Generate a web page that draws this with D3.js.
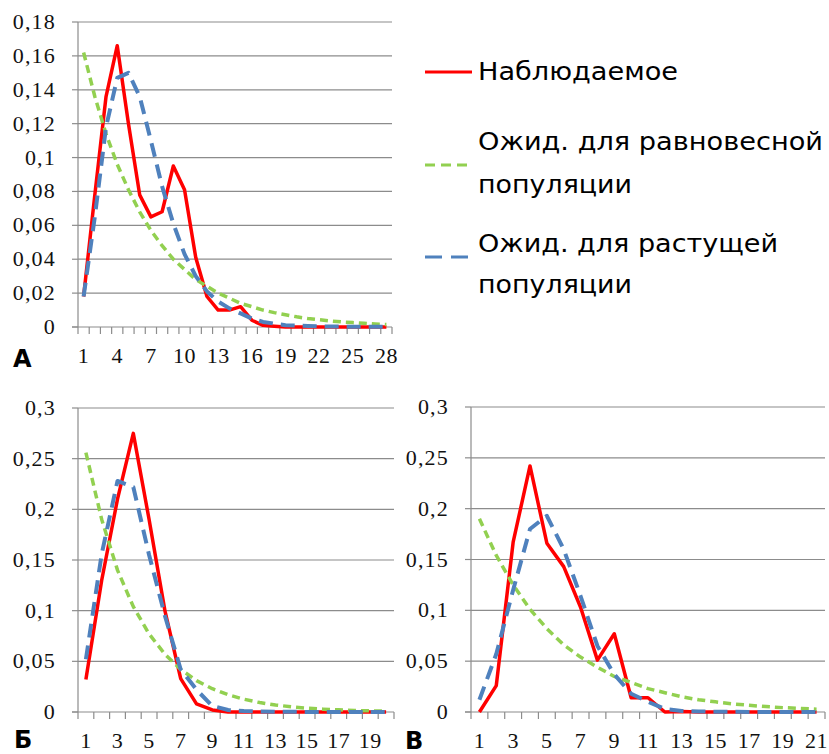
<!DOCTYPE html>
<html>
<head>
<meta charset="utf-8">
<script src="https://cdn.jsdelivr.net/npm/d3@7"></script>
<style>
  body { margin: 0; background: #fff; }
  svg { display: block; }
  .serif { font-family: "Liberation Serif", "DejaVu Serif", serif; }
</style>
</head>
<body>
<svg id="chart" width="829" height="754"></svg>
<script>
// ---------------- DATA ----------------
const catsA = [1,2,3,4,5,6,7,8,9,10,11,12,13,14,15,16,17,18,19,20,21,22,23,24,25,26,27,28];
const observedA = [0.018,0.078,0.136,0.166,0.12,0.078,0.065,0.068,0.095,0.081,0.041,0.018,0.01,0.01,0.012,0.004,0.001,0.0005,0,0,0,0,0,0,0,0,0,0];
const equilibriumA = [0.162,0.136,0.114,0.096,0.081,0.068,0.057,0.048,0.04,0.034,0.028,0.024,0.02,0.017,0.014,0.012,0.01,0.0085,0.0072,0.006,0.005,0.0043,0.0036,0.003,0.0026,0.0022,0.0018,0.0015];
const growingA = [0.018,0.065,0.118,0.147,0.15,0.136,0.11,0.083,0.061,0.043,0.03,0.021,0.015,0.011,0.008,0.005,0.003,0.002,0.001,0.0008,0.0006,0.0004,0.0003,0.0002,0.0002,0.0001,0.0001,0.0001];
const xLabelsA = [1,4,7,10,13,16,19,22,25,28];
const yTicksA = [0,0.02,0.04,0.06,0.08,0.1,0.12,0.14,0.16,0.18];
const yLabelsA = ["0","0,02","0,04","0,06","0,08","0,1","0,12","0,14","0,16","0,18"];

const catsB = [1,2,3,4,5,6,7,8,9,10,11,12,13,14,15,16,17,18,19,20];
const observedB = [0.032,0.13,0.21,0.275,0.19,0.1,0.033,0.008,0.002,0,0,0,0,0,0,0,0,0,0,0];
const equilibriumB = [0.256,0.19,0.14,0.104,0.077,0.057,0.042,0.031,0.023,0.017,0.0126,0.0093,0.0069,0.0051,0.0038,0.0028,0.0021,0.0015,0.0011,0.0008];
const growingB = [0.052,0.156,0.228,0.222,0.155,0.095,0.042,0.022,0.006,0.002,0.001,0.0005,0.0003,0.0002,0.0001,0.0001,0,0,0,0];
const xLabelsB = [1,3,5,7,9,11,13,15,17,19];

const catsC = [1,2,3,4,5,6,7,8,9,10,11,12,13,14,15,16,17,18,19,20,21];
const observedC = [0,0.026,0.167,0.242,0.166,0.143,0.103,0.051,0.077,0.014,0.014,0,0.0005,0,0,0,0,0,0,0,0];
const equilibriumC = [0.19,0.154,0.125,0.101,0.082,0.066,0.054,0.044,0.035,0.029,0.023,0.019,0.015,0.012,0.01,0.008,0.0066,0.0053,0.0043,0.0035,0.0028];
const growingC = [0.012,0.057,0.12,0.18,0.193,0.16,0.114,0.065,0.037,0.018,0.01,0.003,0.001,0.0005,0.0003,0.0002,0.0001,0.0001,0,0,0];
const xLabelsC = [1,3,5,7,9,11,13,15,17,19,21];

const yTicksBC = [0,0.05,0.1,0.15,0.2,0.25,0.3];
const yLabelsBC = ["0","0,05","0,1","0,15","0,2","0,25","0,3"];

const legendLabels = [["Наблюдаемое"],["Ожид. для равновесной","популяции"],["Ожид. для растущей","популяции"]];
const panelLabels = ["А","Б","В"];

// ---------------- STYLE ----------------
const RED = "#ff0000", GREEN = "#92d050", BLUE = "#4f81bd", GRID = "#8c8c8c";
const series = [
  {key:"obs", color:RED, width:3.5, dash:null},
  {key:"eq", color:GREEN, width:3.5, dash:"8,5"},
  {key:"gr", color:BLUE, width:4, dash:"14,8"}
];

const svg = d3.select("#chart");
svg.append("rect").attr("width",829).attr("height",754).attr("fill","#fff");

function panel(cfg) {
  const g = svg.append("g");
  const x = d3.scaleBand().domain(cfg.cats).range([cfg.x0, cfg.x1]).paddingInner(0).paddingOuter(0);
  const y = d3.scaleLinear().domain([0, cfg.ymax]).range([cfg.y0, cfg.y1]);
  const cx = d => x(d) + x.bandwidth()/2;

  g.selectAll(".grid").data(cfg.yTicks.filter(v => v > 0)).enter().append("line")
    .attr("x1", cfg.x0).attr("x2", cfg.x1)
    .attr("y1", d => y(d)).attr("y2", d => y(d))
    .attr("stroke", GRID).attr("stroke-width", 1.2);

  g.append("line").attr("x1", cfg.x0).attr("x2", cfg.x0).attr("y1", y(0)).attr("y2", y(cfg.ymax))
    .attr("stroke", GRID).attr("stroke-width", 1.2);
  g.selectAll(".yt").data(cfg.yTicks).enter().append("line")
    .attr("x1", cfg.x0 - 6).attr("x2", cfg.x0)
    .attr("y1", d => y(d)).attr("y2", d => y(d))
    .attr("stroke", GRID).attr("stroke-width", 1.2);
  g.selectAll(".yl").data(cfg.yTicks).enter().append("text")
    .attr("class", "serif")
    .attr("x", cfg.x0 - 22).attr("y", d => y(d) + 7)
    .attr("text-anchor", "end")
    .attr("font-size", 22).attr("letter-spacing", 1.2).attr("fill", "#111")
    .text((d, i) => cfg.yLabels[i]);

  g.append("line").attr("x1", cfg.x0 - 6).attr("x2", cfg.x1).attr("y1", y(0)).attr("y2", y(0))
    .attr("stroke", GRID).attr("stroke-width", 1.2);
  const bounds = cfg.cats.map(d => x(d)).concat([cfg.x1]);
  g.selectAll(".xt").data(bounds).enter().append("line")
    .attr("x1", d => d).attr("x2", d => d)
    .attr("y1", y(0)).attr("y2", y(0) + 7)
    .attr("stroke", GRID).attr("stroke-width", 1.2);
  g.selectAll(".xl").data(cfg.xLabels).enter().append("text")
    .attr("class", "serif")
    .attr("x", d => cx(d)).attr("y", y(0) + 36)
    .attr("text-anchor", "middle")
    .attr("font-size", 22).attr("letter-spacing", 0.5).attr("fill", "#111")
    .text(d => d);

  const line = d3.line().x(d => cx(d.c)).y(d => y(d.v));
  const data = {obs: cfg.obs, eq: cfg.eq, gr: cfg.gr};
  series.forEach(s => {
    const pts = cfg.cats.map((c, i) => ({c, v: data[s.key][i]}));
    g.append("path").datum(pts).attr("d", line)
      .attr("fill", "none").attr("stroke", s.color).attr("stroke-width", s.width)
      .attr("stroke-dasharray", s.dash).attr("stroke-linejoin", "round");
  });

  g.append("text").attr("x", cfg.lx).attr("y", cfg.ly)
    .attr("font-family", "'DejaVu Sans', Verdana, sans-serif").attr("font-weight", "bold")
    .attr("font-size", 24).attr("fill", "#000").text(cfg.label);
}

panel({cats: catsA, obs: observedA, eq: equilibriumA, gr: growingA, xLabels: xLabelsA,
  yTicks: yTicksA, yLabels: yLabelsA, ymax: 0.18, x0: 78, x1: 392, y0: 327, y1: 22,
  label: panelLabels[0], lx: 13, ly: 367});
panel({cats: catsB, obs: observedB, eq: equilibriumB, gr: growingB, xLabels: xLabelsB,
  yTicks: yTicksBC, yLabels: yLabelsBC, ymax: 0.3, x0: 78, x1: 394, y0: 712, y1: 408,
  label: panelLabels[1], lx: 14, ly: 748});
panel({cats: catsC, obs: observedC, eq: equilibriumC, gr: growingC, xLabels: xLabelsC,
  yTicks: yTicksBC, yLabels: yLabelsBC, ymax: 0.3, x0: 471, x1: 825, y0: 712, y1: 407,
  label: panelLabels[2], lx: 405, ly: 749});

// ---------------- LEGEND ----------------
const leg = svg.append("g");
const legY = [72, 165, 257];
const legText = [[{t:legendLabels[0][0], y:80, w:200}],
                 [{t:legendLabels[1][0], y:150, w:345},{t:legendLabels[1][1], y:193, w:154}],
                 [{t:legendLabels[2][0], y:252, w:300},{t:legendLabels[2][1], y:293, w:154}]];
const legDash = [null, "10,6", "17,9"];
series.forEach((s, i) => {
  leg.append("line").attr("x1", 425).attr("x2", i === 0 ? 472 : 470)
    .attr("y1", legY[i]).attr("y2", legY[i])
    .attr("stroke", s.color).attr("stroke-width", 3.2)
    .attr("stroke-dasharray", legDash[i]);
  legText[i].forEach(tt => {
    leg.append("text").attr("x", 478).attr("y", tt.y)
      .attr("font-family", "'DejaVu Sans', Verdana, sans-serif")
      .attr("font-size", 25).attr("fill", "#000")
      .attr("textLength", tt.w).attr("lengthAdjust", "spacingAndGlyphs")
      .text(tt.t);
  });
});
</script>
</body>
</html>
